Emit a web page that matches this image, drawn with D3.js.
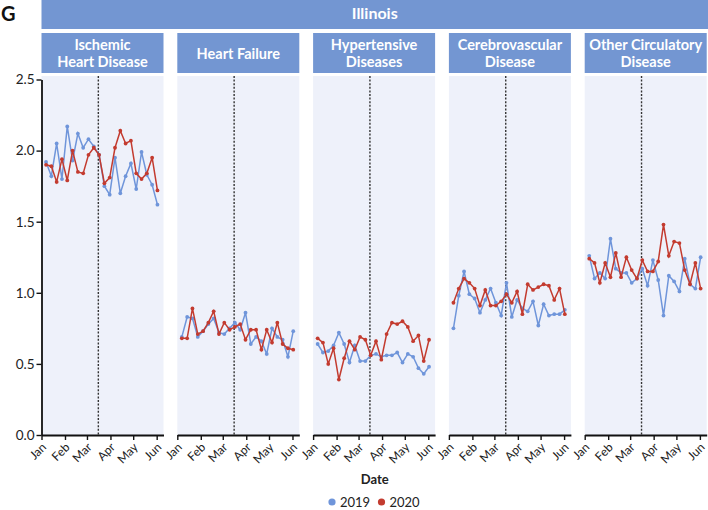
<!DOCTYPE html>
<html><head><meta charset="utf-8">
<script src="https://cdn.jsdelivr.net/npm/d3@7"></script>
<style>
html,body{margin:0;padding:0;background:#fff;}
svg{display:block;font-family:Lato,"Open Sans",sans-serif;}
</style></head>
<body>
<svg id="chart" width="708" height="510"></svg>
<script>
// ---- data ----
const weeks = ["2020-01-07","2020-01-14","2020-01-21","2020-01-28","2020-02-04","2020-02-11","2020-02-18","2020-02-25",
  "2020-03-03","2020-03-10","2020-03-17","2020-03-24","2020-03-31","2020-04-07","2020-04-14","2020-04-21",
  "2020-04-28","2020-05-05","2020-05-12","2020-05-19","2020-05-26","2020-06-02"];
const panels = ["Ischemic\nHeart Disease","Heart Failure","Hypertensive\nDiseases","Cerebrovascular\nDisease","Other Circulatory\nDisease"];
const seriesNames = ["2019","2020"];
const ihd2019 = [1.92,1.82,2.05,1.80,2.17,1.93,2.12,2.02,2.08,2.03,1.97,1.75,1.69,1.95,1.70,1.82,1.91,1.73,1.99,1.83,1.76,1.62];
const ihd2020 = [1.90,1.89,1.78,1.94,1.79,2.00,1.85,1.84,1.97,2.02,1.97,1.77,1.81,2.02,2.14,2.05,2.07,1.84,1.80,1.84,1.95,1.72];
const hf2019  = [0.69,0.83,0.82,0.69,0.73,0.78,0.82,0.72,0.71,0.75,0.79,0.74,0.86,0.64,0.69,0.66,0.57,0.75,0.69,0.67,0.55,0.73];
const hf2020  = [0.68,0.68,0.89,0.71,0.73,0.79,0.87,0.71,0.79,0.74,0.76,0.78,0.67,0.74,0.74,0.60,0.74,0.65,0.79,0.64,0.61,0.60];
const htn2019 = [0.64,0.58,0.59,0.63,0.72,0.64,0.51,0.63,0.52,0.52,0.56,0.57,0.55,0.56,0.56,0.58,0.51,0.57,0.55,0.47,0.43,0.48];
const htn2020 = [0.68,0.65,0.50,0.61,0.39,0.54,0.66,0.60,0.69,0.67,0.56,0.66,0.53,0.71,0.79,0.78,0.80,0.76,0.66,0.70,0.52,0.67];
const cbv2019 = [0.75,0.98,1.15,0.99,0.96,0.86,0.95,1.03,0.93,0.84,1.07,0.83,0.95,0.89,0.87,0.94,0.77,0.92,0.84,0.85,0.85,0.88];
const cbv2020 = [0.93,1.03,1.10,1.07,1.03,0.91,1.02,0.91,0.91,0.94,0.99,0.93,1.01,0.85,1.06,1.02,1.04,1.06,1.05,0.95,1.03,0.85];
const oth2019 = [1.26,1.10,1.14,1.10,1.38,1.17,1.14,1.14,1.07,1.10,1.17,1.05,1.23,1.09,0.84,1.12,1.08,1.01,1.24,1.06,1.03,1.25];
const oth2020 = [1.24,1.21,1.07,1.21,1.11,1.28,1.11,1.25,1.16,1.10,1.23,1.15,1.15,1.22,1.48,1.26,1.36,1.35,1.16,1.06,1.21,1.03];
const yTicks = [0,0.5,1.0,1.5,2.0,2.5];
const cutoffDate = "2020-03-16";
const domainDates = ["2020-01-01","2020-06-10"];
const stateName = "Illinois";
const panelLabel = "G";

const values = [[ihd2019,ihd2020],[hf2019,hf2020],[htn2019,htn2020],[cbv2019,cbv2020],[oth2019,oth2020]];
const colors = ["#6f95da","#c33b2f"];
const stripFill = "#7396d2";
const panelBg = "#eef1fa";

// ---- layout ----
const svg = d3.select("#chart");
const left0 = 41.5, pw = 122, gap = 13.8;
const yTop = 79.5, yBot = 435;
const parse = d3.utcParse("%Y-%m-%d");
const y = d3.scaleLinear().domain([0,2.5]).range([yBot,yTop]);

// label G
svg.append("text").attr("x",1).attr("y",21).attr("font-size",20).attr("font-weight",700)
  .attr("fill","#111").text(panelLabel);

// top strip
svg.append("rect").attr("x",left0).attr("y",0).attr("width",708-left0).attr("height",29).attr("fill",stripFill);
svg.append("text").attr("x",(left0+708)/2).attr("y",19).attr("text-anchor","middle")
  .attr("font-size",16).attr("font-weight",700).attr("fill","#fff").text(stateName);

panels.forEach((name,i)=>{
  const x0 = left0 + i*(pw+gap);
  const x = d3.scaleUtc().domain(domainDates.map(parse)).range([x0,x0+pw]);
  const g = svg.append("g");
  // sub strip
  g.append("rect").attr("x",x0).attr("y",33).attr("width",pw).attr("height",40).attr("fill",stripFill);
  const lines = name.split("\n");
  const t = g.append("text").attr("text-anchor","middle").attr("font-size",14.5).attr("font-weight",700).attr("fill","#fff");
  lines.forEach((ln,k)=>{
    const yy = lines.length===1 ? 59 : 50 + k*16.5;
    t.append("tspan").attr("x",x0+pw/2).attr("y",yy).text(ln);
  });
  // background
  g.append("rect").attr("x",x0).attr("y",76).attr("width",pw).attr("height",yBot-76).attr("fill",panelBg);
  // cutoff line
  const cx = x(parse(cutoffDate));
  g.append("line").attr("x1",cx).attr("x2",cx).attr("y1",76).attr("y2",yBot)
    .attr("stroke","#333").attr("stroke-width",1.4).attr("stroke-dasharray","2,1.6");
  // series
  values[i].forEach((vals,s)=>{
    const pts = weeks.map((w,k)=>({d:parse(w),v:vals[k]}));
    g.append("path").datum(pts).attr("fill","none").attr("stroke",colors[s]).attr("stroke-width",1.5)
      .attr("d",d3.line().x(p=>x(p.d)).y(p=>y(p.v)));
    g.selectAll(null).data(pts).enter().append("circle")
      .attr("cx",p=>x(p.d)).attr("cy",p=>y(p.v)).attr("r",1.9).attr("fill",colors[s]);
  });
  // x axis
  const xa = g.append("g").attr("transform",`translate(0,${yBot})`)
    .call(d3.axisBottom(x).ticks(d3.utcMonth.every(1)).tickFormat(d3.utcFormat("%b")).tickSize(5).tickSizeOuter(0));
  xa.select(".domain").attr("stroke","#111").attr("stroke-width",1.8);
  xa.selectAll(".tick line").attr("stroke","#111").attr("stroke-width",1.4);
  xa.selectAll(".tick text").attr("font-size",12).attr("fill","#222")
    .attr("font-family","Lato,sans-serif")
    .attr("text-anchor","end").attr("x",0).attr("y",0).attr("dy","0")
    .attr("transform","translate(5,13) rotate(-45)");
  if(i===0){
    const ya = g.append("g").attr("transform",`translate(${x0},0)`)
      .call(d3.axisLeft(y).tickValues(yTicks).tickFormat(d3.format(".1f")).tickSize(5).tickSizeOuter(0));
    ya.select(".domain").attr("stroke","#111").attr("stroke-width",1.8);
    ya.selectAll(".tick line").attr("stroke","#111").attr("stroke-width",1.4);
    ya.selectAll(".tick text").attr("font-size",13.5).attr("fill","#222").attr("font-family","Lato,sans-serif").attr("x",-7);
  }
});

// axis title
const midX = (left0+708)/2;
svg.append("text").attr("x",midX).attr("y",484).attr("text-anchor","middle")
  .attr("font-size",13).attr("font-weight",700).attr("fill","#222").text("Date");

// legend
const leg = svg.append("g");
const legX = [332,381.5];
seriesNames.forEach((nm,s)=>{
  leg.append("circle").attr("cx",legX[s]).attr("cy",502).attr("r",3.6).attr("fill",colors[s]);
  leg.append("text").attr("x",legX[s]+8).attr("y",506.5).attr("font-size",13).attr("fill","#222").text(nm);
});
</script>
</body></html>
